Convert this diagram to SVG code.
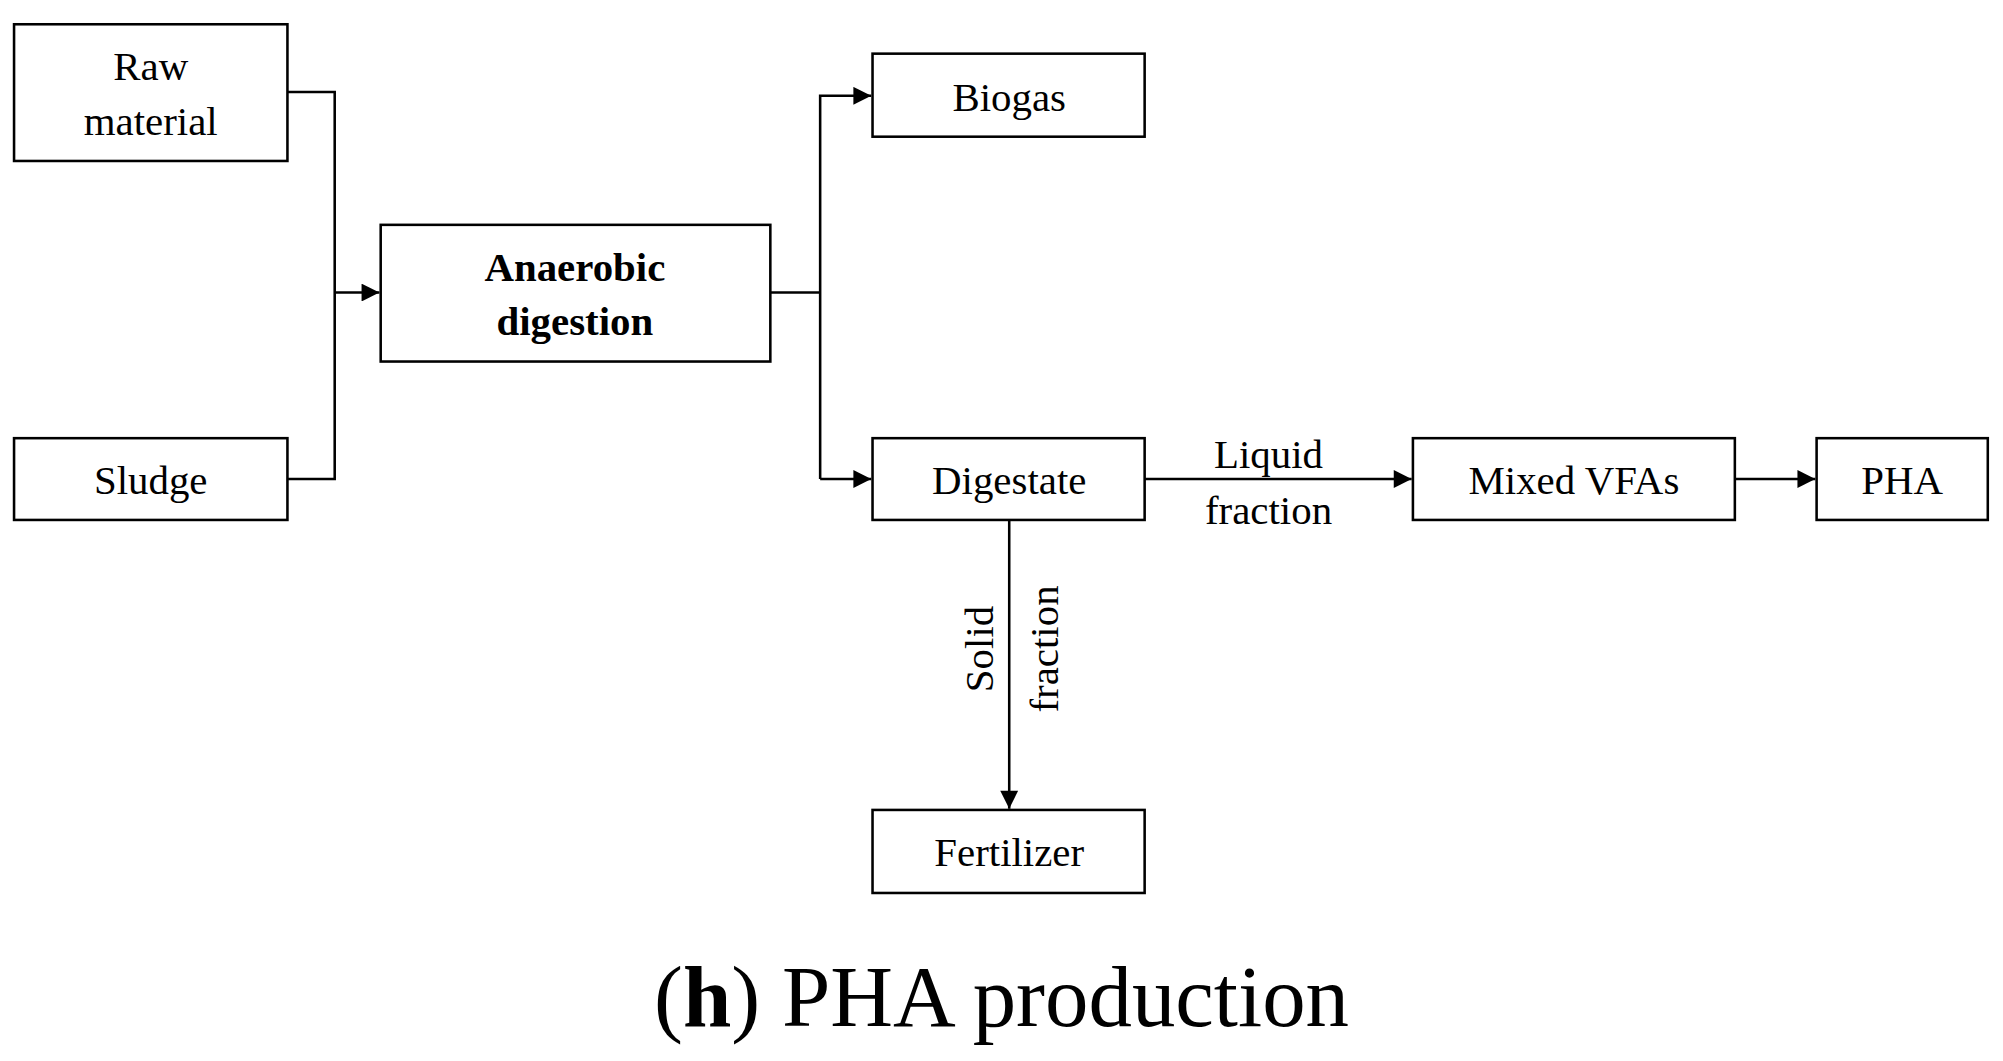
<svg xmlns="http://www.w3.org/2000/svg" width="2003" height="1061" viewBox="0 0 2003 1061">
<defs>
<marker id="ar" viewBox="0 0 10 10" refX="10" refY="5" markerWidth="16" markerHeight="14" markerUnits="userSpaceOnUse" orient="auto"><path d="M0,0 L10,5 L0,10 z" fill="#000"/></marker>
<style>
.b{fill:#fff;stroke:#000;stroke-width:2}
.t{font-family:"Liberation Serif",serif;font-size:32px;text-anchor:middle;fill:#000}
.c{fill:none;stroke:#000;stroke-width:2}
</style>
</defs>
<rect width="2003" height="1061" fill="#fff"/>
<g transform="scale(1.2775)">
<g id="connectors">
<path class="c" d="M225,72 H262 V375 H225"/>
<path class="c" d="M262,229 H297" marker-end="url(#ar)"/>
<path class="c" d="M603,229 H642"/>
<path class="c" d="M642,375 V75 H682" marker-end="url(#ar)"/>
<path class="c" d="M642,375 H682" marker-end="url(#ar)"/>
<path class="c" d="M896,375 H1105" marker-end="url(#ar)"/>
<path class="c" d="M1358,375 H1421" marker-end="url(#ar)"/>
<path class="c" d="M790,407 V633" marker-end="url(#ar)"/>
<text class="t" x="993" y="366">Liquid</text>
<text class="t" x="993" y="410">fraction</text>
<text class="t" transform="translate(777,508) rotate(-90)">Solid</text>
<text class="t" transform="translate(828,508) rotate(-90)">fraction</text>
</g>
<g id="raw"><rect class="b" x="11" y="19" width="214" height="107"/><text class="t" x="118" y="63">Raw</text><text class="t" x="118" y="106">material</text></g>
<g id="sludge"><rect class="b" x="11" y="343" width="214" height="64"/><text class="t" x="118" y="387">Sludge</text></g>
<g id="ad"><rect class="b" x="298" y="176" width="305" height="107"/><text class="t" x="450" y="220" font-weight="bold">Anaerobic</text><text class="t" x="450" y="262" font-weight="bold">digestion</text></g>
<g id="biogas"><rect class="b" x="683" y="42" width="213" height="65"/><text class="t" x="790" y="87">Biogas</text></g>
<g id="digestate"><rect class="b" x="683" y="343" width="213" height="64"/><text class="t" x="790" y="387">Digestate</text></g>
<g id="fertilizer"><rect class="b" x="683" y="634" width="213" height="65"/><text class="t" x="790" y="678">Fertilizer</text></g>
<g id="vfas"><rect class="b" x="1106" y="343" width="252" height="64"/><text class="t" x="1232" y="387">Mixed VFAs</text></g>
<g id="pha"><rect class="b" x="1422" y="343" width="134" height="64"/><text class="t" x="1489" y="387">PHA</text></g>
<text x="784" y="803" font-family="Liberation Serif,serif" font-size="68" text-anchor="middle">(<tspan font-weight="bold">h</tspan>) PHA production</text>
</g>
</svg>
